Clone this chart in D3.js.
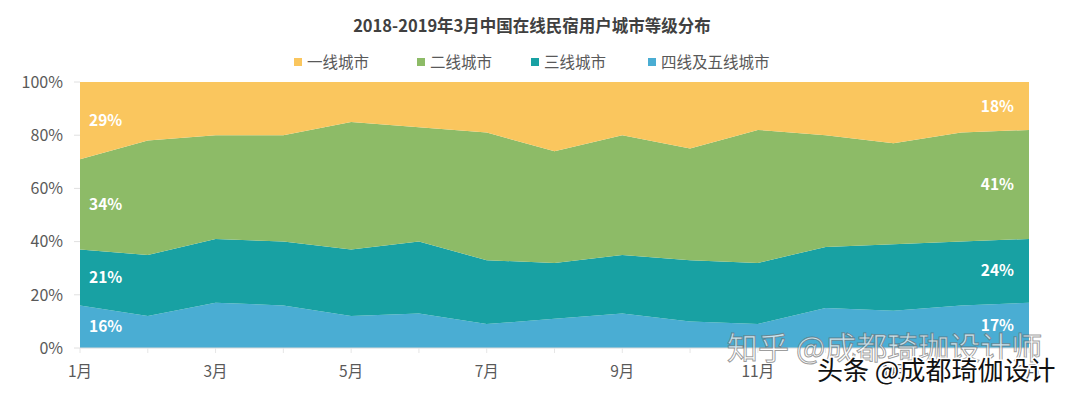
<!DOCTYPE html>
<html>
<head>
<meta charset="utf-8">
<script src="https://cdn.jsdelivr.net/npm/d3@7"></script>
<style>
  body { margin: 0; background: #fff; }
  text { font-family: "Noto Sans CJK SC", "Noto Sans", sans-serif; }
</style>
</head>
<body>
<div id="chart-container"></div>
<script>
// Data
const months = ["1月", "2月", "3月", "4月", "5月", "6月", "7月", "8月", "9月", "10月", "11月", "12月", "1月", "2月", "3月"];
const tickLabels = ["1月", "3月", "5月", "7月", "9月", "11月", "1月", "3月"];
const tier1 = [29, 22, 20, 20, 15, 17, 19, 26, 20, 25, 18, 20, 23, 19, 18];
const tier2 = [34, 43, 39, 40, 48, 43, 48, 42, 45, 42, 50, 42, 38, 41, 41];
const tier3 = [21, 23, 24, 24, 25, 27, 24, 21, 22, 23, 23, 23, 25, 24, 24];
const tier4 = [16, 12, 17, 16, 12, 13, 9, 11, 13, 10, 9, 15, 14, 16, 17];
const yTicks = [0, 0.2, 0.4, 0.6, 0.8, 1];

const seriesNames = ["四线及五线城市", "三线城市", "二线城市", "一线城市"];
const legendOrder = ["一线城市", "二线城市", "三线城市", "四线及五线城市"];
const colors = {
    "一线城市": "#FAC65E",
    "二线城市": "#8DBB67",
    "三线城市": "#18A1A3",
    "四线及五线城市": "#4AADD3"
};

const W = 1080, H = 396;
const margin = { top: 82, right: 51, bottom: 48, left: 80 };
const width = W - margin.left - margin.right;
const height = H - margin.top - margin.bottom;

const root = d3.select("#chart-container")
    .append("svg")
    .attr("width", W)
    .attr("height", H);

const svg = root.append("g")
    .attr("transform", `translate(${margin.left},${margin.top})`);

// table for the stack
const table = months.map((m, i) => ({
    i: i,
    "一线城市": tier1[i],
    "二线城市": tier2[i],
    "三线城市": tier3[i],
    "四线及五线城市": tier4[i]
}));

const stack = d3.stack()
    .keys(seriesNames)
    .offset(d3.stackOffsetExpand);
const layers = stack(table);

const x = d3.scalePoint()
    .domain(d3.range(months.length))
    .range([0, width]);

const y = d3.scaleLinear()
    .domain([0, 1])
    .range([height, 0]);

const area = d3.area()
    .x(d => x(d.data.i))
    .y0(d => y(d[0]))
    .y1(d => y(d[1]));

svg.selectAll(".layer")
    .data(layers)
    .enter()
    .append("path")
    .attr("class", "layer")
    .attr("fill", d => colors[d.key])
    .attr("d", area);

// X axis (labels every other month)
const xAxis = svg.append("g")
    .attr("transform", `translate(0,${height})`);
xAxis.append("line")
    .attr("x1", 0).attr("x2", width)
    .attr("stroke", "#d9d9d9");
xAxis.selectAll(".xtick")
    .data(months.map((m, i) => i))
    .enter()
    .append("line")
    .attr("x1", d => x(d)).attr("x2", d => x(d))
    .attr("y1", 0).attr("y2", 5)
    .attr("stroke", "#e6e6e6");
xAxis.selectAll(".xlabel")
    .data(tickLabels)
    .enter()
    .append("text")
    .attr("x", (d, i) => x(i * 2))
    .attr("y", 29)
    .attr("text-anchor", "middle")
    .style("font-size", "15.5px")
    .style("fill", "#595959")
    .text(d => d);

// Y axis
const yAxis = svg.append("g");
yAxis.selectAll(".ytick")
    .data(yTicks)
    .enter()
    .append("line")
    .attr("x1", -6).attr("x2", 0)
    .attr("y1", d => y(d)).attr("y2", d => y(d))
    .attr("stroke", "#e0e0e0");
yAxis.selectAll(".ylabel")
    .data(yTicks)
    .enter()
    .append("text")
    .attr("x", -17)
    .attr("y", d => y(d))
    .attr("dy", "0.36em")
    .attr("text-anchor", "end")
    .style("font-size", "16px")
    .style("fill", "#595959")
    .text(d3.format(".0%"));

// Value labels at first and last month, centred in each band
const last = months.length - 1;
layers.forEach(function(layer) {
    const a = layer[0], b = layer[last];
    svg.append("text")
        .attr("x", x(0) + 9)
        .attr("y", y((a[0] + a[1]) / 2))
        .attr("dy", "0.36em")
        .style("font-size", "15.5px")
        .style("font-weight", "bold")
        .style("fill", "#fff")
        .text(Math.round((a[1] - a[0]) * 100) + "%");
    svg.append("text")
        .attr("x", x(last) - 15)
        .attr("y", y((b[0] + b[1]) / 2))
        .attr("dy", "0.36em")
        .attr("text-anchor", "end")
        .style("font-size", "15.5px")
        .style("font-weight", "bold")
        .style("fill", "#fff")
        .text(Math.round((b[1] - b[0]) * 100) + "%");
});

// Title
root.append("text")
    .attr("x", 532)
    .attr("y", 26)
    .attr("dy", "0.36em")
    .attr("text-anchor", "middle")
    .style("font-size", "16.5px")
    .style("font-weight", "bold")
    .style("fill", "#404040")
    .text("2018-2019年3月中国在线民宿用户城市等级分布");

// Legend
const legendX = [0, 123, 237, 354];
const legend = root.append("g")
    .attr("transform", "translate(294,62)");
legendOrder.forEach(function(name, i) {
    const g = legend.append("g").attr("transform", `translate(${legendX[i]},0)`);
    g.append("rect")
        .attr("x", 0).attr("y", -4)
        .attr("width", 8).attr("height", 8)
        .attr("fill", colors[name]);
    g.append("text")
        .attr("x", 13)
        .attr("dy", "0.36em")
        .style("font-size", "15.5px")
        .style("fill", "#595959")
        .text(name);
});

// Watermarks from the source image
root.append("text")
    .attr("x", 727)
    .attr("y", 359)
    .style("font-size", "31px")
    .style("fill", "rgba(255,255,255,0.7)")
    .style("stroke", "rgba(90,90,90,0.6)")
    .style("stroke-width", 1)
    .text("知乎 @成都琦珈设计师");
root.append("text")
    .attr("x", 817)
    .attr("y", 380)
    .style("font-size", "26px")
    .style("fill", "#111")
    .style("stroke", "#fff")
    .style("stroke-width", 3)
    .style("paint-order", "stroke")
    .text("头条 @成都琦伽设计");
</script>
</body>
</html>
